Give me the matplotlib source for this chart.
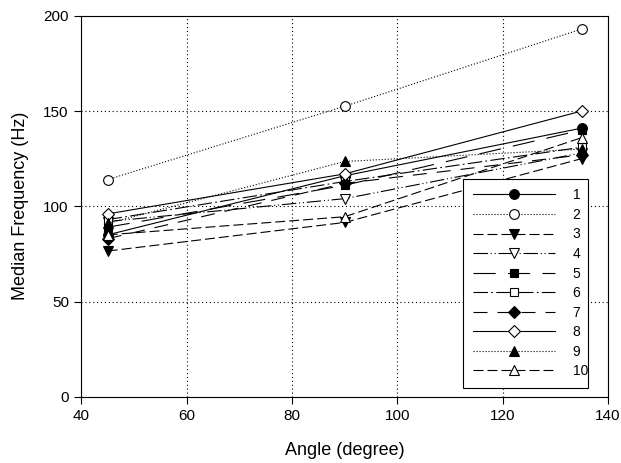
import matplotlib
matplotlib.use("Agg")
import matplotlib.pyplot as plt

plt.rcParams['font.family'] = ['Liberation Sans', 'DejaVu Sans']

angles = [45, 90, 135]
labels = ["1", "2", "3", "4", "5", "6", "7", "8", "9", "10"]
s1 = [85, 116, 141]
s2 = [114, 152.5, 193]
s3 = [76.5, 91.5, 125]
s4 = [92, 104, 128]
s5 = [89, 111, 140]
s6 = [93, 113, 131]
s7 = [83, 112, 127]
s8 = [96, 117, 150]
s9 = [91, 123.5, 130]
s10 = [85, 94.5, 136]
series = [s1, s2, s3, s4, s5, s6, s7, s8, s9, s10]

markers = ['o', 'o', 'v', 'v', 's', 's', 'D', 'D', '^', '^']
fills = ['k', 'w', 'k', 'w', 'k', 'w', 'k', 'w', 'k', 'w']
msizes = [7, 7, 7, 7, 6, 6, 6, 6, 7, 7]
styles = ['-', (0, (1, 1.7)), (0, (9, 3.6)), (0, (13, 2.5, 1, 2.5, 1, 2.5)),
          (0, (20, 11)), (0, (13, 3, 1.5, 3)), (0, (12.6, 9)), '-',
          (0, (1, 1.7)), (0, (9, 3.6))]

fig = plt.figure(figsize=(6.21, 4.63), dpi=100)
ax = fig.add_axes([0.131, 0.143, 0.848, 0.823])

for y, lab, m, fc, ms, ls in zip(series, labels, markers, fills, msizes, styles):
    ax.plot(angles, y, color='k', linestyle=ls, linewidth=0.8, marker=m,
            markerfacecolor=fc, markeredgecolor='k', markersize=ms,
            markeredgewidth=0.8, label=lab)

ax.set_xlim(40, 140)
ax.set_ylim(0, 200)
ax.set_xticks([40, 60, 80, 100, 120, 140])
ax.set_yticks([0, 50, 100, 150, 200])
ax.grid(True, linestyle=(0, (1, 2.5)), color='k', linewidth=0.8)
ax.tick_params(direction='out', length=5, width=0.8, labelsize=11, colors='k', pad=4)
for sp in ax.spines.values():
    sp.set_linewidth(0.8)
ax.set_xlabel("Angle (degree)", fontsize=13, labelpad=13.5)
ax.set_ylabel("Median Frequency (Hz)", fontsize=13, labelpad=10)

leg = ax.legend(loc='lower left', bbox_to_anchor=(0.7246, 0.023, 0.2374, 0.546),
                mode='expand', borderaxespad=0, fontsize=10, handlelength=5.9,
                handletextpad=1.3, labelspacing=0.4, fancybox=False,
                edgecolor='k', framealpha=1, borderpad=0.7)
leg.get_frame().set_linewidth(0.8)

fig.savefig("out.png", dpi=100)
